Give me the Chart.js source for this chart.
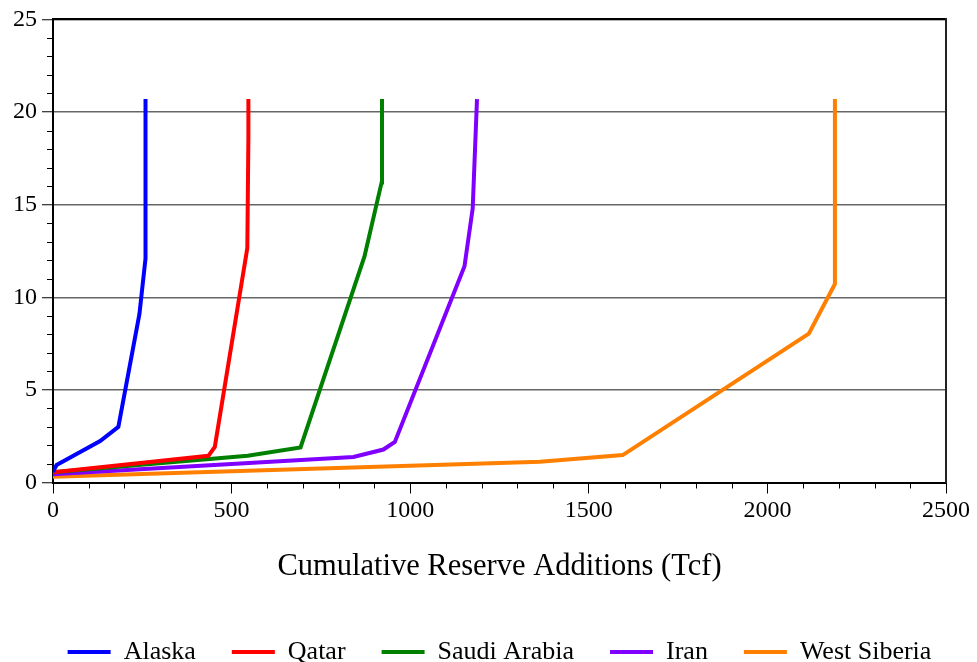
<!DOCTYPE html>
<html>
<head>
<meta charset="utf-8">
<script src="https://cdn.jsdelivr.net/npm/chart.js@4/dist/chart.umd.min.js"></script>
<style>
  html, body { margin: 0; padding: 0; background: #fff; overflow: hidden; }
  #wrap { width: 977px; height: 675px; }
</style>
</head>
<body>
<div id="wrap"><canvas id="chart" width="977" height="675"></canvas></div>
<script>
// Cumulative reserve additions (Tcf) against the y-axis value, one curve per basin
const regionNames = ['Alaska', 'Qatar', 'Saudi Arabia', 'Iran', 'West Siberia'];
const regionColors = ['#0000ff', '#ff0000', '#008000', '#8000ff', '#ff8000'];

const alaskaX = [0, 10, 132, 183, 242, 259, 259];
const alaskaY = [0.58, 0.94, 2.24, 3.0, 9.1, 12.1, 20.7];

const qatarX = [0, 435, 453, 544, 547, 547];
const qatarY = [0.55, 1.44, 1.92, 12.65, 18.6, 20.7];

const saudiX = [0, 545, 693, 872, 920, 921];
const saudiY = [0.55, 1.45, 1.89, 12.2, 16.2, 20.7];

const iranX = [0, 841, 925, 957, 1152, 1175, 1187];
const iranY = [0.44, 1.38, 1.78, 2.19, 11.67, 14.8, 20.7];

const westSiberiaX = [0, 1363, 1595, 2116, 2189, 2189];
const westSiberiaY = [0.31, 1.12, 1.48, 8.04, 10.72, 20.7];

const xTickValues = [0, 500, 1000, 1500, 2000, 2500];
const yTickValues = [0, 5, 10, 15, 20, 25];
const xAxisTitle = 'Cumulative Reserve Additions (Tcf)';

const seriesX = [alaskaX, qatarX, saudiX, iranX, westSiberiaX];
const seriesY = [alaskaY, qatarY, saudiY, iranY, westSiberiaY];

const FONT = "'Liberation Serif', 'Times New Roman', serif";

const datasets = regionNames.map((name, i) => ({
  label: name,
  data: seriesX[i].map((x, j) => ({ x: x, y: seriesY[i][j] })),
  borderColor: regionColors[i],
  backgroundColor: regionColors[i],
  borderWidth: 4,
  pointRadius: 0,
  pointHoverRadius: 0,
  tension: 0,
  fill: false
}));

// short unlabeled ticks between the major ones
const minorTicks = {
  id: 'minorTicks',
  afterDraw(chart) {
    const ctx = chart.ctx;
    const xs = chart.scales.x, ys = chart.scales.y;
    const area = chart.chartArea;
    ctx.save();
    ctx.strokeStyle = '#000';
    ctx.lineWidth = 1;
    ctx.beginPath();
    for (let v = 100; v < xs.max; v += 100) {
      if (v % 500 === 0) continue;
      const px = Math.round(xs.getPixelForValue(v)) + 0.5;
      ctx.moveTo(px, area.bottom);
      ctx.lineTo(px, area.bottom + 6);
    }
    for (let v = 1; v < ys.max; v += 1) {
      if (v % 5 === 0) continue;
      const py = Math.round(ys.getPixelForValue(v)) + 0.5;
      ctx.moveTo(area.left - 6, py);
      ctx.lineTo(area.left, py);
    }
    ctx.stroke();
    ctx.restore();
  }
};

// center the legend row under the plot area rather than the whole canvas
const legendUnderPlot = {
  id: 'legendUnderPlot',
  afterLayout(chart) {
    const lg = chart.legend;
    if (!lg) return;
    const area = chart.chartArea;
    const shift = (area.left + area.right) / 2 - (lg.left + lg.right) / 2;
    lg.left += shift;
    lg.right += shift;
  }
};

new Chart(document.getElementById('chart'), {
  type: 'line',
  data: { datasets: datasets },
  plugins: [minorTicks, legendUnderPlot],
  options: {
    responsive: false,
    animation: false,
    devicePixelRatio: 1,
    layout: { padding: { top: 16.5, right: 31, left: 0, bottom: 0 } },
    plugins: {
      tooltip: { enabled: false },
      legend: {
        position: 'bottom',
        labels: {
          color: '#000',
          font: { family: FONT, size: 26 },
          usePointStyle: true,
          pointStyle: 'line',
          pointStyleWidth: 43,
          padding: 36
        }
      }
    },
    scales: {
      x: {
        type: 'linear',
        position: 'bottom',
        min: 0,
        max: 2500,
        afterBuildTicks(scale) { scale.ticks = xTickValues.map(v => ({ value: v })); },
        afterFit(scale) { scale.height = 120.5; },
        ticks: {
          color: '#000',
          font: { family: FONT, size: 24 },
          padding: 3,
          maxRotation: 0,
          callback: v => String(v)
        },
        grid: { drawOnChartArea: false, tickLength: 11, tickColor: '#000', tickWidth: 1 },
        border: { color: '#000', width: 2 },
        title: {
          display: true,
          text: xAxisTitle,
          color: '#000',
          font: { family: FONT, size: 30.5 },
          padding: { top: 4, bottom: 18 }
        }
      },
      y: {
        type: 'linear',
        position: 'left',
        min: 0,
        max: 25,
        afterBuildTicks(scale) { scale.ticks = yTickValues.map(v => ({ value: v })); },
        afterFit(scale) { scale.width = 53; },
        ticks: {
          color: '#000',
          font: { family: FONT, size: 24 },
          padding: 5,
          callback: v => String(v)
        },
        grid: {
          color: 'rgba(0,0,0,0.6)',
          lineWidth: 1.5,
          tickLength: 11,
          tickColor: '#000',
          tickWidth: 1
        },
        border: { color: '#000', width: 2 }
      },
      xTop: {
        type: 'linear',
        position: 'top',
        min: 0,
        max: 2500,
        afterFit(scale) { scale.height = 0; },
        ticks: { display: false },
        grid: { drawOnChartArea: false, drawTicks: false },
        border: { color: '#000', width: 2 }
      },
      yRight: {
        type: 'linear',
        position: 'right',
        min: 0,
        max: 25,
        afterFit(scale) { scale.width = 0; },
        ticks: { display: false },
        grid: { drawOnChartArea: false, drawTicks: false },
        border: { color: '#222', width: 2 }
      }
    }
  }
});
</script>
</body>
</html>
